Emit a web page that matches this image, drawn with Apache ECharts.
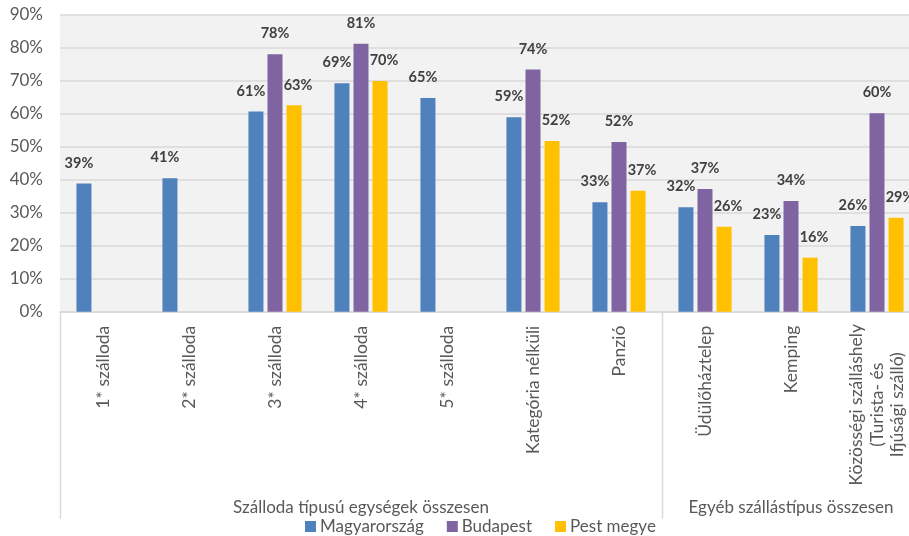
<!DOCTYPE html>
<html>
<head>
<meta charset="utf-8">
<script src="https://cdn.jsdelivr.net/npm/echarts@6/dist/echarts.min.js"></script>
<style>html,body{margin:0;padding:0;background:#fff;overflow:hidden}#c{width:922px;height:536px}</style>
</head>
<body>
<div id="c"></div>
<script>
const categories = ['1* szálloda','2* szálloda','3* szálloda','4* szálloda','5* szálloda','Kategória nélküli','Panzió','Üdülőháztelep','Kemping','Közösségi szálláshely\n(Turista- és\nIfjúsági szálló)'];
const seriesNames = ['Magyarország','Budapest','Pest megye'];
const magyarorszag = [38.9, 40.5, 60.7, 69.3, 64.8, 59.0, 33.2, 31.7, 23.3, 26.0];
const budapest = [null, null, 78.1, 81.3, null, 73.5, 51.5, 37.2, 33.6, 60.2];
const pestMegye = [null, null, 62.6, 70.0, null, 51.8, 36.7, 25.8, 16.4, 28.5];
const groupNames = ['Szálloda típusú egységek összesen','Egyéb szállástípus összesen'];
const groupSpans = [7, 3];
const yTicks = [0, 10, 20, 30, 40, 50, 60, 70, 80, 90];

const colors = ['#4F81BD','#8064A2','#FFC000'];
const font = 'Lato, "Open Sans", sans-serif';
const textGray = '#595959';

const chart = echarts.init(document.getElementById('c'), null, {renderer:'canvas'});

function labelCfg(dx){
  return {
    show: true, position: 'top', distance: 13, offset: [dx, 0],
    color: '#404040', fontWeight: 'bold', fontSize: 14.5, fontFamily: font,
    formatter: p => (p.value == null ? '' : Math.round(p.value) + '%')
  };
}

const option = {
  backgroundColor: '#ffffff',
  animation: false,
  color: colors,
  grid: { left: 60, top: 15, width: 860, height: 296.7, show: true, backgroundColor: '#f2f2f2', borderWidth: 0 },
  legend: {
    data: seriesNames, left: 300, top: 513, itemWidth: 11, itemHeight: 11, itemGap: 23,
    icon: 'rect',
    textStyle: { color: textGray, fontSize: 17, fontFamily: font, padding: [0,0,0,-1] }
  },
  xAxis: {
    type: 'category', data: categories,
    axisLine: { lineStyle: { color: '#d9d9d9', width: 1.5 } },
    axisTick: { show: false },
    axisLabel: {
      interval: 0, rotate: 90, margin: 14, color: textGray, fontSize: 17.5, fontFamily: font,
      formatter: v => v.indexOf('\n') >= 0 ? v.split('\n').map(s => '{c|' + s + '}').join('\n') : v,
      rich: { c: { width: 158, align: 'center', fontSize: 17.5, fontFamily: font, color: textGray, lineHeight: 20.6 } }
    }
  },
  yAxis: {
    type: 'value', min: yTicks[0], max: yTicks[yTicks.length-1], interval: yTicks[1]-yTicks[0],
    axisLine: { show: false }, axisTick: { show: false },
    axisLabel: { formatter: '{value}%', color: textGray, fontSize: 17, fontFamily: font, margin: 17 },
    splitLine: { lineStyle: { color: '#d9d9d9', width: 1.5 } }
  },
  series: [
    { name: seriesNames[0], type: 'bar', data: magyarorszag, barWidth: 15, barGap: '27%', label: labelCfg(-5) },
    { name: seriesNames[1], type: 'bar', data: budapest, barWidth: 15, barGap: '27%', label: labelCfg(0) },
    { name: seriesNames[2], type: 'bar', data: pestMegye, barWidth: 15, barGap: '27%', label: labelCfg(4) }
  ]
};
chart.setOption(option);

// group labels and separators computed from the axis scale
const c0 = chart.convertToPixel({xAxisIndex:0}, categories[0]);
const c1 = chart.convertToPixel({xAxisIndex:0}, categories[1]);
const band = c1 - c0;
const y0 = chart.convertToPixel({yAxisIndex:0}, 0);
const elements = [];
let start = 0;
groupNames.forEach((name, i) => {
  const left = chart.convertToPixel({xAxisIndex:0}, categories[start]) - band/2;
  const right = left + band * groupSpans[i];
  elements.push({ type: 'line', shape: { x1: Math.round(left)+0.5, y1: y0, x2: Math.round(left)+0.5, y2: y0 + 207 }, style: { stroke: '#d9d9d9', lineWidth: 1.5 }, silent: true });
  elements.push({ type: 'text', x: (left + right)/2, y: y0 + 196, style: { text: name, fill: textGray, fontSize: 17, fontFamily: font, textAlign: 'center', textVerticalAlign: 'middle' }, silent: true });
  start += groupSpans[i];
});
chart.setOption({ graphic: elements });
</script>
</body>
</html>
